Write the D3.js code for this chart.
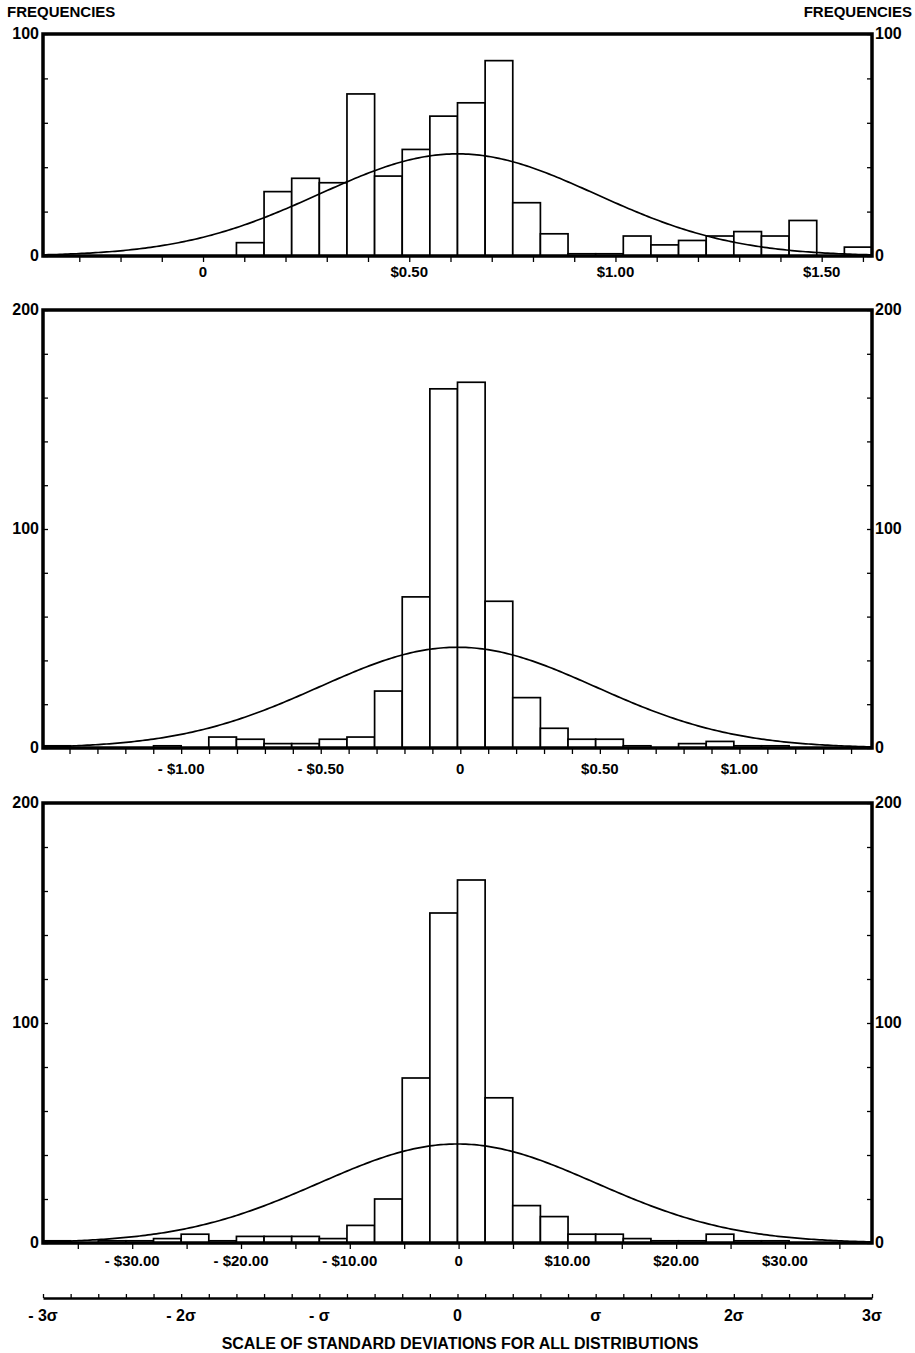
<!DOCTYPE html>
<html>
<head>
<meta charset="utf-8">
<script src="https://cdn.jsdelivr.net/npm/d3@7"></script>
<style>
  body { margin:0; background:#fff; }
  svg { display:block; font-family:"Liberation Sans", Arial, sans-serif; font-weight:bold; }
  .lbl { font-size:15px; fill:#000; }
  .ylbl { font-size:16px; fill:#000; }
  .bar { fill:#fff; stroke:#000; stroke-width:1.7; }
  .curve { fill:none; stroke:#000; stroke-width:1.7; }
  .frame { fill:none; stroke:#000; stroke-width:3.5; }
  .tick line { stroke:#000; stroke-width:1.3; }
</style>
</head>
<body>
<svg id="c" width="915" height="1353"></svg>
<script>
// counts per 0.2-sigma bin, from -3 sigma to +3 sigma (30 bins)
const topCounts = [0,0,0,0,0,0,0,6,29,35,33,73,36,48,63,69,88,24,10,1,1,9,5,7,9,11,9,16,0,4];
const midCounts = [1,0,0,0,1,0,5,4,2,2,4,5,26,69,164,167,67,23,9,4,4,1,0,2,3,1,1,0,0,0];
const botCounts = [1,0,1,1,2,4,1,3,3,3,2,8,20,75,150,165,66,17,12,4,4,2,1,1,4,1,1,0,0,0];

// mean and standard deviation (dollars) of each distribution
const means = [0.617, -0.01, -0.1];
const sds   = [0.335, 0.495, 12.7];
const yMaxes = [100, 200, 200];
const curvePeaks = [46, 46, 45];

// dollar labels on each panel
const topLabelVals = [0, 0.5, 1.0, 1.5];
const topLabels = ["0", "$0.50", "$1.00", "$1.50"];
const midLabelVals = [-1.0, -0.5, 0, 0.5, 1.0];
const midLabels = ["- $1.00", "- $0.50", "0", "$0.50", "$1.00"];
const botLabelVals = [-30, -20, -10, 0, 10, 20, 30];
const botLabels = ["- $30.00", "- $20.00", "- $10.00", "0", "$10.00", "$20.00", "$30.00"];
const minorSteps = [0.1, 0.1, 5];

const sigmaVals = [-3, -2, -1, 0, 1, 2, 3];
const sigmaLabels = ["- 3σ", "- 2σ", "- σ", "0", "σ", "2σ", "3σ"];

const svg = d3.select('#c');
const X0 = 43, X1 = 872;
const bands = [[34, 256], [310, 748], [803, 1243]];
const labelYs = [277, 774, 1266];

const panels = [
  {counts: topCounts, lv: topLabelVals, lt: topLabels},
  {counts: midCounts, lv: midLabelVals, lt: midLabels},
  {counts: botCounts, lv: botLabelVals, lt: botLabels}
];

panels.forEach((p, i) => {
  const m = means[i], s = sds[i];
  const x = d3.scaleLinear().domain([m - 3*s, m + 3*s]).range([X0, X1]);
  const y = d3.scaleLinear().domain([0, yMaxes[i]]).range([bands[i][1], bands[i][0]]);
  const g = svg.append('g');
  const bw = 0.2 * s;

  // bars
  g.selectAll('.bar').data(p.counts.map((c, k) => ({c, k})).filter(d => d.c > 0))
    .enter().append('rect').attr('class', 'bar')
    .attr('x', d => x(m - 3*s + d.k*bw))
    .attr('width', d => x(m - 3*s + (d.k+1)*bw) - x(m - 3*s + d.k*bw))
    .attr('y', d => y(d.c))
    .attr('height', d => y(0) - y(d.c));

  // fitted normal curve
  const zs = d3.range(-3, 3.001, 0.02);
  g.append('path').attr('class', 'curve')
    .attr('d', d3.line().x(z => x(m + z*s)).y(z => y(curvePeaks[i] * Math.exp(-z*z/2)))(zs));

  // frame
  g.append('rect').attr('class', 'frame')
    .attr('x', X0).attr('y', bands[i][0]).attr('width', X1 - X0).attr('height', bands[i][1] - bands[i][0]);

  // minor x ticks
  const st = minorSteps[i];
  const minor = d3.range(Math.ceil((m - 3*s)/st), Math.floor((m + 3*s)/st) + 1).map(v => v*st);
  g.append('g').attr('transform', `translate(0,${bands[i][1] + 1})`)
    .call(d3.axisBottom(x).tickValues(minor).tickSize(5).tickFormat(''))
    .call(a => a.select('.domain').remove());

  // dollar labels
  p.lv.forEach((v, j) => {
    g.append('text').attr('class', 'lbl').attr('x', x(v)).attr('y', labelYs[i])
      .attr('text-anchor', 'middle').text(p.lt[j]);
  });

  // y ticks, inward on both sides
  const yt = d3.range(0, yMaxes[i] + 1, 20);
  g.append('g').attr('transform', `translate(${X0},0)`)
    .call(d3.axisRight(y).tickValues(yt).tickSize(5).tickFormat(''))
    .call(a => a.select('.domain').remove());
  g.append('g').attr('transform', `translate(${X1},0)`)
    .call(d3.axisLeft(y).tickValues(yt).tickSize(5).tickFormat(''))
    .call(a => a.select('.domain').remove());

  // y labels
  const yl = yMaxes[i] === 100 ? [0, 100] : [0, 100, 200];
  yl.forEach(v => {
    g.append('text').attr('class', 'ylbl').attr('x', X0 - 4).attr('y', y(v) + 5)
      .attr('text-anchor', 'end').text(v);
    g.append('text').attr('class', 'ylbl').attr('x', X1 + 3).attr('y', y(v) + 5)
      .attr('text-anchor', 'start').text(v);
  });
});

svg.append('text').attr('class', 'lbl').attr('x', 7).attr('y', 17).style('font-size', '15px').text('FREQUENCIES');
svg.append('text').attr('class', 'lbl').attr('x', 912).attr('y', 17).attr('text-anchor', 'end').style('font-size', '15px').text('FREQUENCIES');

// sigma scale
const xs = d3.scaleLinear().domain([-3, 3]).range([X0, X1]);
const sg = svg.append('g').attr('transform', 'translate(0,1298)');
sg.call(d3.axisTop(xs).tickValues(d3.range(-15, 16).map(k => k*0.2)).tickSize(4).tickFormat('').tickSizeOuter(0));
sg.select('.domain').attr('stroke', '#000').attr('stroke-width', 2.5);
sigmaVals.forEach((v, j) => {
  svg.append('text').attr('class', 'lbl').attr('x', xs(v)).attr('y', 1321)
    .attr('text-anchor', 'middle').style('font-size', '16px').text(sigmaLabels[j]);
});
svg.append('text').attr('class', 'lbl').attr('x', 460).attr('y', 1349)
  .attr('text-anchor', 'middle').style('font-size', '16px')
  .text('SCALE OF STANDARD DEVIATIONS FOR ALL DISTRIBUTIONS');
</script>
</body>
</html>
